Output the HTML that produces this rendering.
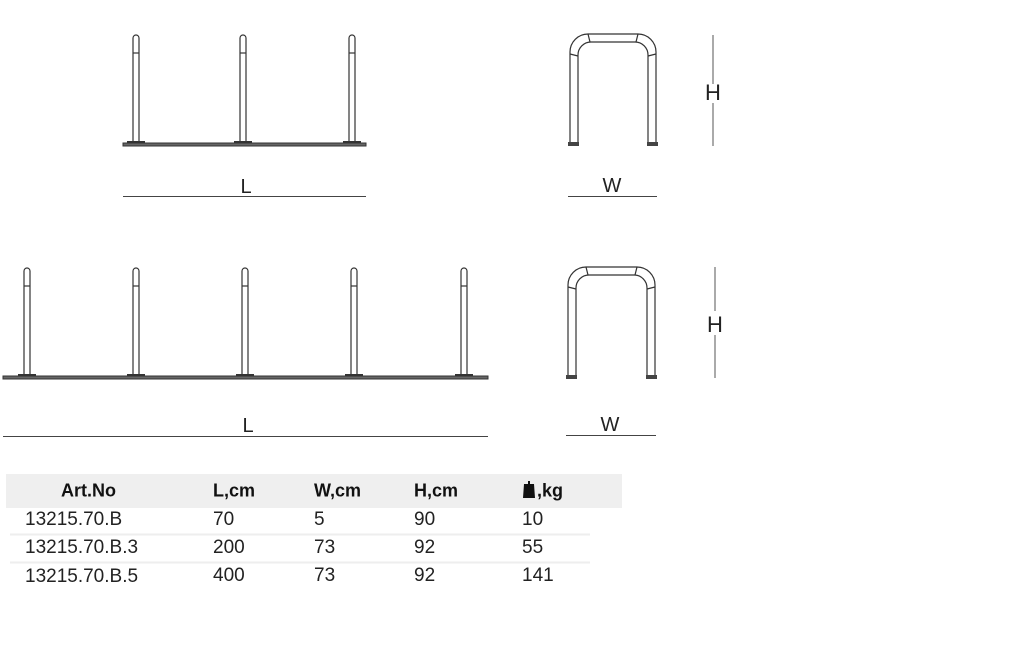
<!DOCTYPE html>
<html><head><meta charset="utf-8"><style>
body{margin:0;background:#fff;width:1024px;height:647px;overflow:hidden;position:relative;font-family:"Liberation Sans",sans-serif}
svg{position:absolute;left:0;top:0}
.t{position:absolute;font-size:19px;color:#222;transform:translateY(-50%)}
.h{font-weight:bold;font-size:18px;color:#111}
</style></head><body>
<svg width="1024" height="647" viewBox="0 0 1024 647">
<defs>
<g id="p1" fill="none" stroke="#333" stroke-width="1.2">
<path d="M-3 108 V3 A3 3 0 0 1 3 3 V108"/><line x1="-3" y1="18" x2="3" y2="18"/>
<rect x="-9" y="106" width="18" height="2" fill="#333" stroke="none"/>
</g>
</defs>
<rect x="123" y="143" width="243" height="3" fill="#666" stroke="#333" stroke-width="1"/>
<use href="#p1" x="136" y="35"/><use href="#p1" x="243" y="35"/><use href="#p1" x="352" y="35"/>
<line x1="123" y1="196.5" x2="366" y2="196.5" stroke="#444" stroke-width="1"/>
<text x="246" y="193" font-size="20" text-anchor="middle" fill="#222">L</text>
<rect x="3" y="376" width="485" height="3" fill="#666" stroke="#333" stroke-width="1"/>
<use href="#p1" x="27" y="268"/><use href="#p1" x="136" y="268"/><use href="#p1" x="245" y="268"/><use href="#p1" x="354" y="268"/><use href="#p1" x="464" y="268"/>
<line x1="3" y1="436.5" x2="488" y2="436.5" stroke="#444" stroke-width="1"/>
<text x="248" y="432" font-size="20" text-anchor="middle" fill="#222">L</text>
<g fill="none" stroke="#333" stroke-width="1.2">
<path d="M570 143 V52 A18 18 0 0 1 588 34 H638 A18 18 0 0 1 656 52 V143"/>
<path d="M578 143 V55 A13 13 0 0 1 591 42 H635 A13 13 0 0 1 648 55 V143"/>
<line x1="588" y1="34" x2="590" y2="42"/><line x1="638" y1="34" x2="636" y2="42"/>
<line x1="570" y1="54" x2="578" y2="56"/><line x1="656" y1="54" x2="648" y2="56"/>
</g>
<rect x="568" y="142" width="11" height="4" fill="#444"/><rect x="647" y="142" width="11" height="4" fill="#444"/>
<line x1="713" y1="35" x2="713" y2="84" stroke="#555"/><line x1="713" y1="103" x2="713" y2="146" stroke="#555"/>
<text x="713" y="100" font-size="22" text-anchor="middle" fill="#222">H</text>
<text x="612" y="192" font-size="20" text-anchor="middle" fill="#222">W</text>
<line x1="568" y1="196.5" x2="657" y2="196.5" stroke="#444"/>
<g fill="none" stroke="#333" stroke-width="1.2">
<path d="M568 376 V285 A18 18 0 0 1 586 267 H637 A18 18 0 0 1 655 285 V376"/>
<path d="M576 376 V288 A13 13 0 0 1 589 275 H634 A13 13 0 0 1 647 288 V376"/>
<line x1="586" y1="267" x2="588" y2="275"/><line x1="637" y1="267" x2="635" y2="275"/>
<line x1="568" y1="287" x2="576" y2="289"/><line x1="655" y1="287" x2="647" y2="289"/>
</g>
<rect x="566" y="375" width="11" height="4" fill="#444"/><rect x="646" y="375" width="11" height="4" fill="#444"/>
<line x1="715" y1="267" x2="715" y2="311" stroke="#555"/><line x1="715" y1="335" x2="715" y2="378" stroke="#555"/>
<text x="715" y="332" font-size="22" text-anchor="middle" fill="#222">H</text>
<text x="610" y="431" font-size="20" text-anchor="middle" fill="#222">W</text>
<line x1="566" y1="435.5" x2="656" y2="435.5" stroke="#444"/>
<rect x="6" y="474" width="616" height="34" fill="#efefef"/>
<line x1="10" y1="534.5" x2="590" y2="534.5" stroke="#eee" stroke-width="2"/>
<line x1="10" y1="562.5" x2="590" y2="562.5" stroke="#eee" stroke-width="2"/>
<path d="M524 484 h4 v-3 h2 v3 h4 l1 14 h-12 z" fill="#111"/>
</svg>
<div class="t h" style="left:61px;top:491px">Art.No</div>
<div class="t h" style="left:213px;top:491px">L,cm</div>
<div class="t h" style="left:314px;top:491px">W,cm</div>
<div class="t h" style="left:414px;top:491px">H,cm</div>
<div class="t h" style="left:537px;top:491px">,kg</div>
<div class="t" style="left:25px;top:520px">13215.70.B</div>
<div class="t" style="left:213px;top:520px">70</div>
<div class="t" style="left:314px;top:520px">5</div>
<div class="t" style="left:414px;top:520px">90</div>
<div class="t" style="left:522px;top:520px">10</div>
<div class="t" style="left:25px;top:548px">13215.70.B.3</div>
<div class="t" style="left:213px;top:548px">200</div>
<div class="t" style="left:314px;top:548px">73</div>
<div class="t" style="left:414px;top:548px">92</div>
<div class="t" style="left:522px;top:548px">55</div>
<div class="t" style="left:25px;top:577px">13215.70.B.5</div>
<div class="t" style="left:213px;top:576px">400</div>
<div class="t" style="left:314px;top:576px">73</div>
<div class="t" style="left:414px;top:576px">92</div>
<div class="t" style="left:522px;top:576px">141</div>
</body></html>
